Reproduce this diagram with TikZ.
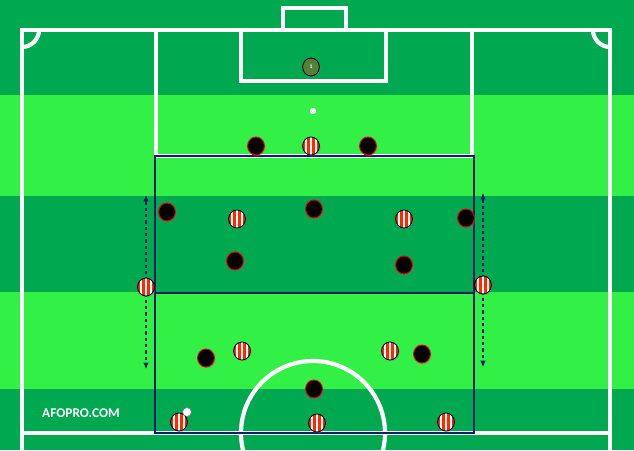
\documentclass[tikz,border=0pt]{standalone}
\usepackage{fontspec}
\setsansfont{Carlito}
\usetikzlibrary{shapes.geometric,shadows,arrows.meta}

\definecolor{pitchdark}{RGB}{0,168,80}
\definecolor{pitchlight}{RGB}{50,240,70}
\definecolor{boxnavy}{RGB}{18,32,98}
\definecolor{shirtred}{RGB}{255,40,0}
\definecolor{keepergreen}{RGB}{84,128,58}

\tikzset{
  pitchline/.style={white,line width=6pt},
  zoneline/.style={boxnavy,line width=3.4pt},
  runline/.style={boxnavy,line width=1.6pt,dash pattern=on 5pt off 4pt,-{Latex[length=9pt,width=8pt]}},
  player/.style={ellipse,inner sep=0pt,minimum width=8.4mm,minimum height=9mm,
    drop shadow={shadow xshift=1.8pt,shadow yshift=-1.8pt,opacity=0.35}},
  blackp/.style={player,fill=black,draw=red!90!black,line width=1.4pt},
  stripep/.style={player,draw=black,line width=1.2pt,fill=shirtred,
    path picture={
      \foreach \s in {-2.5,0,2.5} {
        \fill[white] ([xshift={(\s-0.6)*1mm}]path picture bounding box.south)
          rectangle ([xshift={(\s+0.6)*1mm}]path picture bounding box.north);
      }
    }},
  keeperp/.style={player,fill=keepergreen,draw=black,line width=1.2pt,
    text=white,font=\sffamily\bfseries\fontsize{8}{8}\selectfont},
}

\begin{document}
\begin{tikzpicture}[x=0.05cm,y=-0.05cm]

\useasboundingbox (0,0) rectangle (634,450);
\clip (0,0) rectangle (634,450);

% grass bands
\fill[pitchdark]  (0,0)   rectangle (634,95);
\fill[pitchlight] (0,95)  rectangle (634,196);
\fill[pitchdark]  (0,196) rectangle (634,292);
\fill[pitchlight] (0,292) rectangle (634,389);
\fill[pitchdark]  (0,389) rectangle (634,450);

% pitch markings
\draw[pitchline] (22,450) -- (22,30) -- (610,30) -- (610,450);
\draw[pitchline] (22,433) -- (610,433);
\draw[pitchline] (156,30) -- (156,156) -- (472,156) -- (472,30);
\draw[pitchline] (241,30) -- (241,81) -- (386,81) -- (386,30);
\draw[pitchline] (283,30) -- (283,8) -- (346,8) -- (346,30);
\draw[pitchline] (39,30) arc[start angle=0,end angle=90,radius=17];
\draw[pitchline] (593,30) arc[start angle=180,end angle=90,radius=17];
\draw[pitchline] (313,433) circle[radius=72];
\fill[white] (313,111) circle[radius=3.2];

% zones
\draw[zoneline] (155,156) rectangle (474,433);
\draw[zoneline] (155,293) -- (474,293);

\node[white,font=\sffamily\bfseries\fontsize{19}{19}\selectfont] (site) at (81,413) {AFOPRO.COM};

% keeper
\node[keeperp] (gk) at (311,67) {1};

% side runners and their runs
\coordinate (lup) at (146,195);
\coordinate (ldown) at (146,369);
\coordinate (rup) at (483,193);
\coordinate (rdown) at (483,367);
\draw[runline] (146,287) -- (lup);
\draw[runline] (146,287) -- (ldown);
\draw[runline] (483,285) -- (rup);
\draw[runline] (483,285) -- (rdown);
\node[stripep] (sl) at (146,287) {};
\node[stripep] (sr) at (483,285) {};

% black team
\foreach \name/\x/\y in {b1/256/146, b2/368/146, b3/167/212, b4/314/209,
                         b5/466/218, b6/235/261, b7/404/265, b8/206/358,
                         b9/422/354, b10/314/389} {
  \node[blackp] (\name) at (\x,\y) {};
}

% striped team
\foreach \name/\x/\y in {s1/311/146, s2/237/219, s3/404/219, s4/242/351,
                         s5/390/351, s6/179/422, s7/317/423, s8/446/422} {
  \node[stripep] (\name) at (\x,\y) {};
}

% ball
\node[circle,fill=white,draw=black!60,line width=0.5pt,inner sep=0pt,minimum size=4.4mm,
  drop shadow={shadow xshift=1pt,shadow yshift=-1pt,opacity=0.3}] (ball) at (187,412) {};

\end{tikzpicture}
\end{document}
